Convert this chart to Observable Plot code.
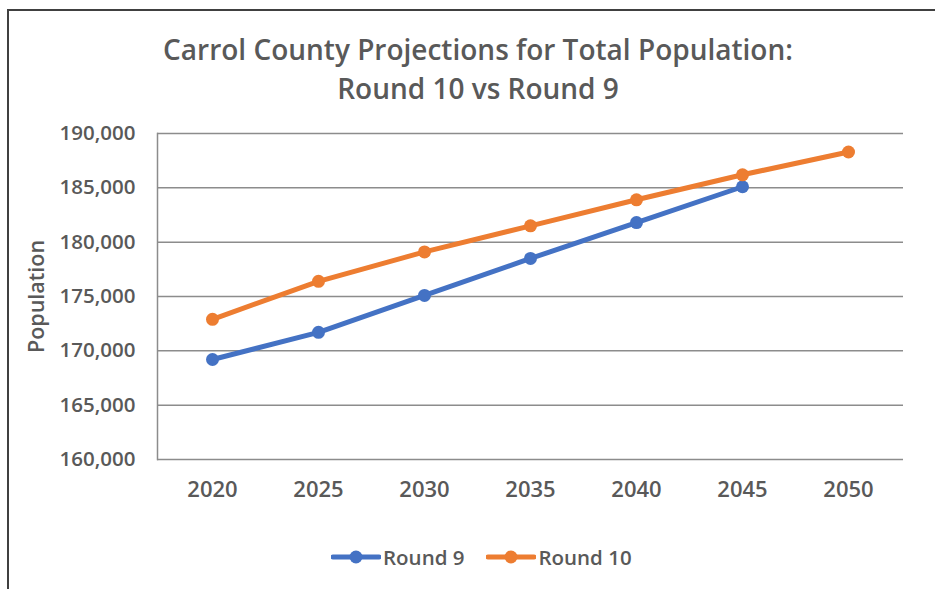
<!DOCTYPE html>
<html>
<head>
<meta charset="utf-8">
<script src="https://cdn.jsdelivr.net/npm/d3@7"></script>
<script src="https://cdn.jsdelivr.net/npm/@observablehq/plot@0.6"></script>
<style>
  body { margin: 0; background: #fff; }
  #wrap { position: relative; width: 935px; height: 589px; overflow: hidden; font-family: "Open Sans", Lato, sans-serif; color: #595959; }
  #frame { position: absolute; left: 7px; top: 9px; width: 940px; height: 600px; border-left: 2px solid #404040; border-top: 2px solid #404040; }
  .title { position: absolute; left: 0; width: 956px; text-align: center; font-size: 28px; font-weight: 600; color: #595959; white-space: nowrap; }
  #plot { position: absolute; left: 0; top: 0; }
  #legend { position: absolute; top: 543px; left: 331px; display: flex; align-items: center; font-size: 20.5px; font-weight: 600; color: #595959; }
  .item { display: flex; align-items: center; margin-right: 22px; }
  .item svg { margin-right: 2px; }
</style>
</head>
<body>
<div id="wrap">
  <div id="frame"></div>
  <div class="title" style="top:30px">Carrol County Projections for Total Population:</div>
  <div class="title" style="top:69px">Round 10 vs Round 9</div>
  <div id="plot"></div>
  <div id="legend"></div>
</div>
<script>
const years = [2020, 2025, 2030, 2035, 2040, 2045, 2050];
const round9 = [169200, 171700, 175100, 178500, 181800, 185100];
const round10 = [172900, 176400, 179100, 181500, 183900, 186200, 188300];
const yTicks = [160000, 165000, 170000, 175000, 180000, 185000, 190000];
const seriesNames = ["Round 9", "Round 10"];
const seriesColors = ["#4472C4", "#ED7D31"];

const data = [
  ...round9.map((v, i) => ({ year: String(years[i]), value: v, series: seriesNames[0] })),
  ...round10.map((v, i) => ({ year: String(years[i]), value: v, series: seriesNames[1] }))
];

const fmt = d3.format(",");
const chart = Plot.plot({
  width: 935,
  height: 589,
  marginLeft: 157,
  marginRight: 32,
  marginTop: 133,
  marginBottom: 130,
  style: { fontFamily: "'Open Sans', Lato, sans-serif", background: "transparent", overflow: "visible" },
  x: { type: "point", domain: years.map(String), padding: 0.5, label: null },
  y: { domain: [160000, 190000], ticks: yTicks, label: null },
  color: { domain: seriesNames, range: seriesColors },
  marks: [
    Plot.ruleY(yTicks, { stroke: "#8c8c8c", strokeWidth: 1.5 }),
    Plot.frame({ anchor: "left", stroke: "#8c8c8c", strokeWidth: 1.5 }),
    Plot.axisY({ ticks: yTicks, tickSize: 0, tickPadding: 22, tickFormat: fmt, fontSize: 20.5, fontWeight: 600, fill: "#595959", label: null }),
    Plot.axisX({ tickSize: 0, tickPadding: 22, fontSize: 22, fontWeight: 600, fill: "#595959", label: null }),
    Plot.text(["Population"], { frameAnchor: "left", textAnchor: "middle", dx: -120, rotate: -90, fontSize: 21.5, fontWeight: 600, fill: "#595959" }),
    Plot.line(data, { x: "year", y: "value", stroke: "series", strokeWidth: 5 }),
    Plot.dot(data, { x: "year", y: "value", fill: "series", r: 6.5 })
  ]
});
document.getElementById("plot").appendChild(chart);

const legend = document.getElementById("legend");
seriesNames.forEach((name, i) => {
  const item = document.createElement("div");
  item.className = "item";
  item.innerHTML = `<svg width="50" height="14"><line x1="2" y1="7" x2="48" y2="7" stroke="${seriesColors[i]}" stroke-width="5" stroke-linecap="round"/><circle cx="25" cy="7" r="6.5" fill="${seriesColors[i]}"/></svg><span>${name}</span>`;
  legend.appendChild(item);
});
</script>
</body>
</html>
